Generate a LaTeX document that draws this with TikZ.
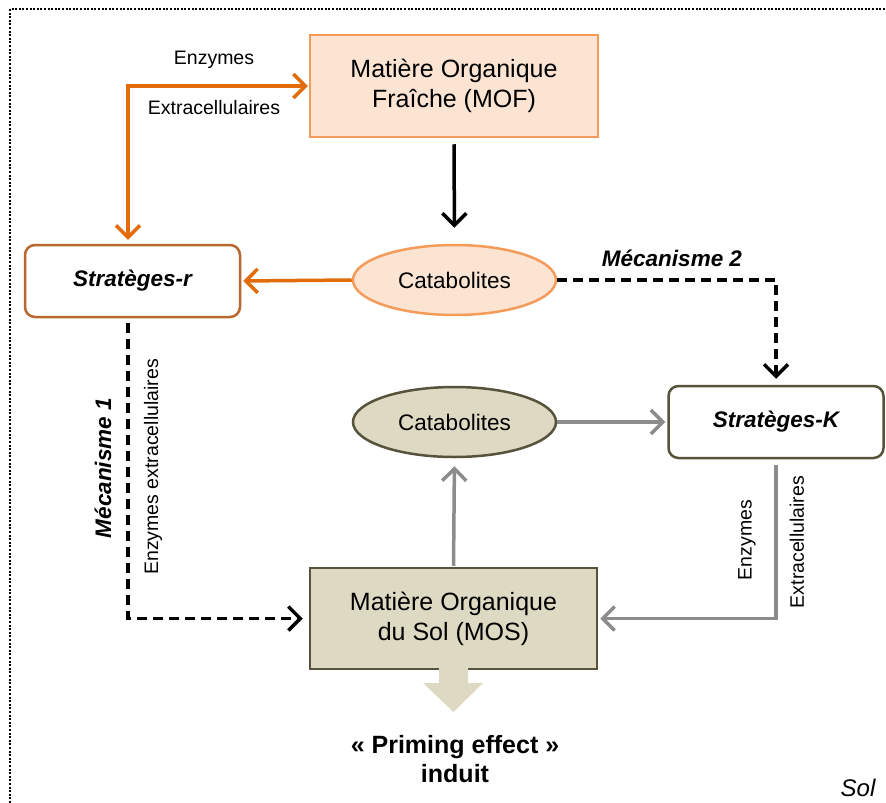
\documentclass[tikz,border=0pt]{standalone}
\usepackage{fontspec}
\setmainfont{Liberation Sans}
\usetikzlibrary{arrows.meta,shapes.geometric}
\definecolor{orline}{HTML}{E36C0A}
\definecolor{orlight}{HTML}{F59B5A}
\definecolor{orfill}{HTML}{FCE4D2}
\definecolor{brbord}{HTML}{B8682E}
\definecolor{khfill}{HTML}{DDD9C3}
\definecolor{khbord}{HTML}{56533A}
\definecolor{grline}{HTML}{8C8C8C}
\tikzset{
  big/.style={font=\fontsize{25}{30}\selectfont},
  small/.style={font=\fontsize{19.5}{23}\selectfont},
  bi/.style={font=\fontsize{22.5}{27}\selectfont\bfseries\itshape},
  boxmof/.style={draw=orlight, fill=orfill, line width=2.5pt, minimum width=288pt, minimum height=102pt, big, align=center, inner sep=0pt},
  boxmos/.style={draw=khbord, fill=khfill, line width=2.5pt, minimum width=287pt, minimum height=101pt, big, align=center, inner sep=0pt},
  strat/.style={rounded corners=10pt, line width=2.5pt, fill=white, minimum width=215pt, minimum height=72pt, bi, inner sep=0pt},
  ellA/.style={ellipse, draw=orlight, fill=orfill, line width=2.5pt, minimum width=203pt, minimum height=70pt, inner sep=0pt, font=\fontsize{22.5}{27}\selectfont},
  ellB/.style={ellipse, draw=khbord, fill=khfill, line width=2.5pt, minimum width=203pt, minimum height=70pt, inner sep=0pt, font=\fontsize{22.5}{27}\selectfont},
  tip/.style={-{Straight Barb[length=12pt,width=24pt,line width=3.5pt]}},
  dtip/.style={{Straight Barb[length=12pt,width=24pt,line width=3.5pt]}-{Straight Barb[length=12pt,width=24pt,line width=3.5pt]}},
  conn/.style={line width=3.5pt},
  dsh/.style={line width=3.5pt, dash pattern=on 10pt off 6pt},
}
\begin{document}
\begin{tikzpicture}[x=1pt,y=-1pt]
\useasboundingbox (0,0) rectangle (886,803);
% frame
\draw[line width=2.2pt, dash pattern=on 2pt off 1.6pt] (10,803) -- (10,9) -- (886,9);

% nodes
\node[boxmof] (mof) at (454,86) {Matière Organique\\Fraîche (MOF)};
\node[ellA] (cat1) at (454.5,280) {Catabolites};
\node[strat, draw=brbord] (sr) at (132.5,281) {Stratèges-r};
\node[strat, draw=khbord] (sk) at (776,422) {Stratèges-K};
\node[ellB] (cat2) at (454.5,422) {Catabolites};
\node[boxmos] (mos) at (453.5,618.5) {Matière Organique\\du Sol (MOS)};

\coordinate (c1) at (128,86);
\coordinate (c2) at (128,618.5);

% block arrow
\fill[khfill] (439,666) -- (468,666) -- (468,683) -- (483,683) -- (453.5,712) -- (423,683) -- (439,683) -- cycle;

% connectors
\draw[conn, orline, dtip, shorten <=4pt, shorten >=1pt] (sr.north -| c1) -- (c1) -- (mof.west);
\draw[conn, orline, tip, shorten >=2pt] (cat1.west) -- (sr.east);
\draw[conn, black, tip, shorten <=6pt, shorten >=16pt] (mof.south) -- (cat1.north);
\draw[dsh, black, tip, shorten >=6pt] (cat1.east) -- (cat1.east -| sk.north) -- (sk.north);
\draw[dsh, black, tip, shorten <=5pt, shorten >=6pt] (sr.south -| c1) -- (c2) -- (mos.west);
\draw[conn, grline, tip, shorten >=2pt] (cat2.east) -- (sk.west);
\draw[conn, grline, tip, shorten <=1pt, shorten >=8pt] (mos.north) -- (cat2.south);
\draw[conn, grline, tip, shorten <=6pt, shorten >=2pt] (sk.south) |- (mos.east);

% labels
\node[small] (l1) at (214,60) {Enzymes};
\node[small] (l2) at (214,108) {Extracellulaires};
\node[bi] (m2) at (672,258) {Mécanisme 2};
\node[bi, rotate=90] (m1) at (103,468) {Mécanisme 1};
\node[small, rotate=90] (l3) at (153,467) {Enzymes extracellulaires};
\node[small, rotate=90] (l4) at (747,540) {Enzymes};
\node[small, rotate=90] (l5) at (797,542) {Extracellulaires};
\node[font=\fontsize{25}{29}\selectfont\bfseries, align=center] (pe) at (455,759) {« Priming effect »\\induit};
\node[font=\fontsize{24}{28}\selectfont\itshape] (sol) at (858,788) {Sol};
\end{tikzpicture}
\end{document}
